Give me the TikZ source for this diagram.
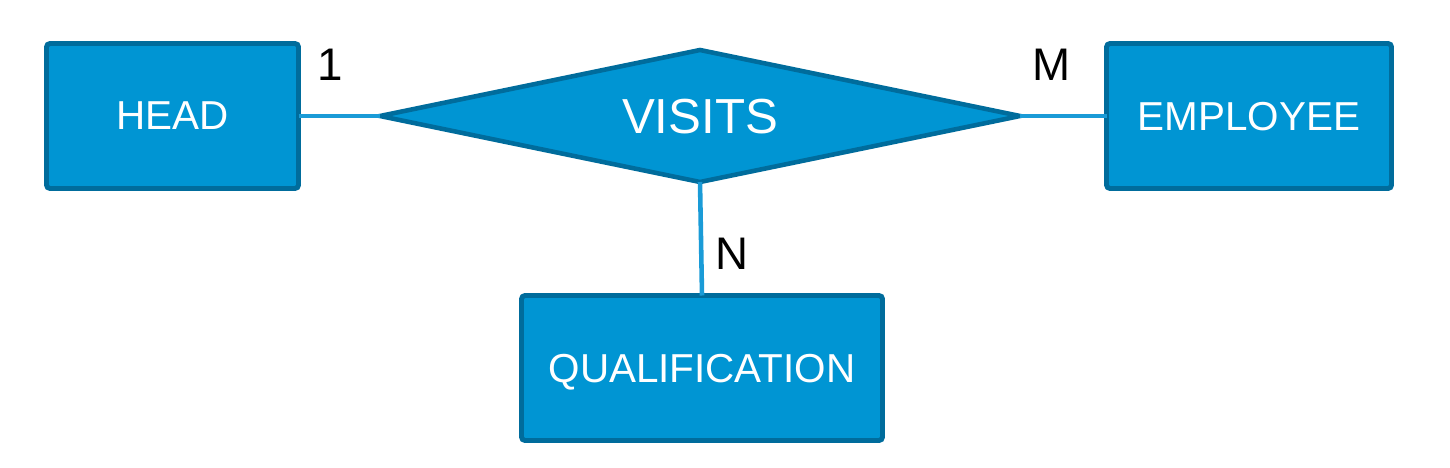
\documentclass[tikz,border=0pt]{standalone}
\usepackage{fontspec}
\setmainfont{Liberation Sans}
\usepackage{tikz}
\usetikzlibrary{positioning,shapes.geometric}
\definecolor{erfill}{HTML}{0095D3}
\definecolor{erborder}{HTML}{006C9C}
\definecolor{erline}{HTML}{1A9BD7}
\tikzset{entitynode/.style={rectangle, rounded corners=1pt, draw=erborder, fill=erfill, line width=1.4pt, text=white, font=\fontsize{11.5}{14}\selectfont, text depth=0pt, minimum width=2.52cm, minimum height=1.45cm, inner sep=0pt, outer sep=0pt},
relnode/.style={diamond, aspect=4.7, draw=erborder, fill=erfill, line width=1.3pt, text=white, font=\fontsize{14}{17}\selectfont, text depth=0pt, minimum width=6.4cm, minimum height=1.32cm, inner sep=0pt, outer sep=0pt},
cardnode/.style={font=\fontsize{13}{15}\selectfont, inner sep=0pt},}

\begin{document}
\begin{tikzpicture}
\useasboundingbox (0,0) rectangle (14.5,-4.68);
\node [entitynode] (head) at (1.725,-1.16) {HEAD};
\node [relnode] (visits) at (7.0,-1.16) {VISITS};
\node [entitynode, minimum width=2.85cm] (employee) at (12.49,-1.16) {EMPLOYEE};
\node [entitynode, minimum width=3.61cm] (qualification) at (7.02,-3.68) {QUALIFICATION};
\draw[erline, line width=1.3pt] (head.east) -- (visits.west);
\draw[erline, line width=1.3pt] (visits.east) -- (employee.west);
\draw[erline, line width=1.3pt] (visits.south) -- (qualification.north);
\node [cardnode] (one) at (3.30,-0.65) {1};
\node [cardnode] (many) at (10.52,-0.65) {M};
\node [cardnode] (n) at (7.32,-2.54) {N};
\end{tikzpicture}
\end{document}
